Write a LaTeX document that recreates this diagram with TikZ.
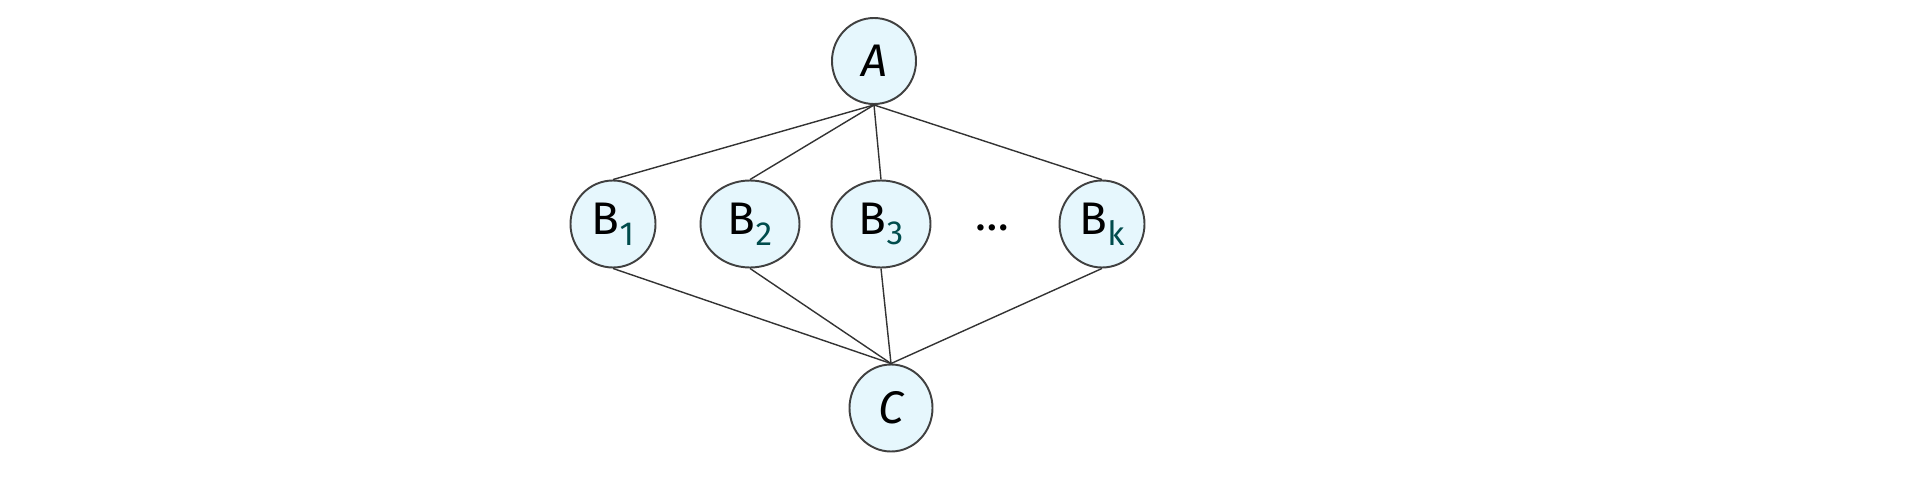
\documentclass[tikz,border=0pt]{standalone}
\usepackage{fontspec}
\setmainfont{Fira Sans}
\usetikzlibrary{positioning}

\tikzset{
  vert/.style={shape=ellipse, draw=black!75, line width=1.1pt, fill=cyan!10, minimum width=1.7cm, minimum height=1.74cm, inner sep=0pt, font=\fontsize{26}{30}\selectfont},
  wide/.style={vert, minimum width=1.98cm},
  edge/.style={draw=black!80, line width=0.8pt}
}
\usetikzlibrary{shapes.geometric}
\newcommand{\sub}[1]{\raisebox{-0.45ex}{\fontsize{19}{22}\selectfont\color{teal!60!black}#1}}

\begin{document}
\begin{tikzpicture}
			% Paths, nodes and wires:
			\useasboundingbox (0, 0) rectangle (38.32, 9.8);
			\node[vert, minimum width=1.68cm, minimum height=1.72cm] (a) at (17.48, 8.58){\itshape A};
			\node[vert] (b1) at (12.26, 5.32){B\sub{1}};
			\node[wide] (b2) at (15.00, 5.32){B\sub{2}};
			\node[wide] (b3) at (17.62, 5.32){B\sub{3}};
			\node[font=\fontsize{26}{30}\selectfont] (dots) at (19.84, 5.24){\dots};
			\node[vert] (bk) at (22.04, 5.32){B\sub{k}};
			\node[vert, minimum width=1.66cm] (c) at (17.82, 1.64){\itshape C};
			\foreach \b in {b1, b2, b3, bk}{
				\draw[edge] (a.south) -- (\b.north);
				\draw[edge] (\b.south) -- (c.north);
			}
		\end{tikzpicture}
\end{document}
